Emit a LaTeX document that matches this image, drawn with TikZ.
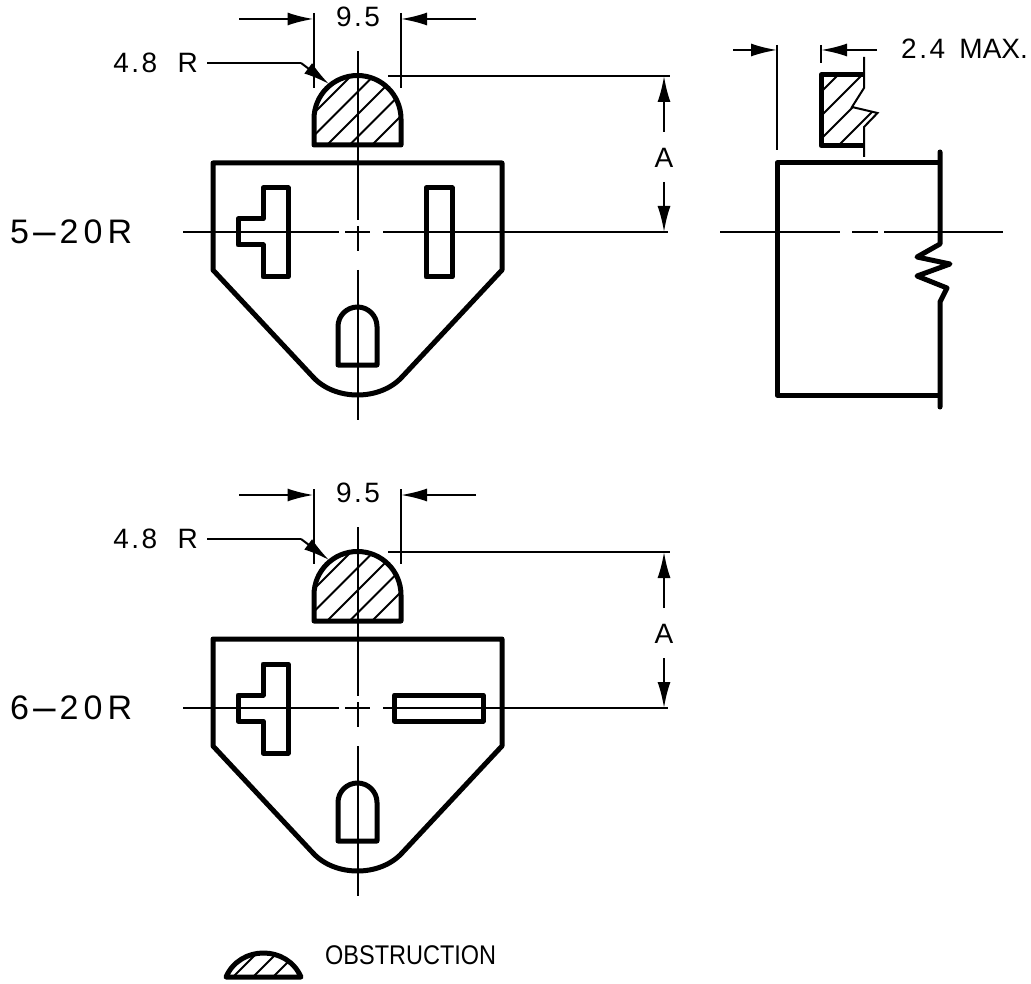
\documentclass[tikz,border=0pt]{standalone}
\usepackage{fontspec}
\usepackage{tikz}
\usetikzlibrary{arrows.meta}
\setmainfont{Liberation Sans}
\newfontfamily\dimfont[LetterSpace=9]{Liberation Sans}
\tikzset{
    outline/.style={black, line width=5pt, line join=round},
    slot/.style={black, line width=5pt, line join=round},
    thin line/.style={black, line width=2pt},
    hatch/.style={black, line width=1.8pt},
    dimarrow/.style={black, line width=2pt, -{Latex[length=26pt,width=13pt]}},
    dimtext/.style={font=\dimfont\fontsize{28}{28}\selectfont, inner sep=0pt},
    plugtext/.style={font=\dimfont\fontsize{34}{34}\selectfont\addfontfeature{LetterSpace=15}, inner sep=0pt},
}
\begin{document}
\begin{tikzpicture}[x=1pt,y=-1pt]
    \useasboundingbox (0,0) rectangle (1031,984);
    \foreach \dy/\plug in {0/5,476/6}{
        \begin{scope}[shift={(0,\dy)}]
            \begin{scope}
                \clip (314,145) -- (314,119) arc [start angle=180, end angle=360, radius=43.5] -- (401,145) -- cycle;
                \foreach \s in {427,449.5,472,494.5,517}
                    \draw[hatch] (\s-170,170) -- (\s-70,70);
            \end{scope}
            \draw[outline] (314,145) -- (314,119) arc [start angle=180, end angle=360, radius=43.5] -- (401,145) -- cycle;
            \draw[outline] (213,163) -- (502,163) -- (502,270) -- (402,377) .. controls (380,401) and (335,401) .. (313,377) -- (213,270) -- cycle;
            \draw[slot] (263,188) -- (288,188) -- (288,277) -- (263,277) -- (263,245) -- (238,245) -- (238,219) -- (263,219) -- cycle;
            \draw[slot] (338,365) -- (338,326.5) arc [start angle=180, end angle=360, radius=19.5] -- (377,365) -- cycle;
            \draw[thin line] (357.5,51) -- (357.5,220);
            \draw[thin line] (357.5,226) -- (357.5,251);
            \draw[thin line] (357.5,270) -- (357.5,420);
            \draw[thin line] (183,232) -- (339,232);
            \draw[thin line] (345,232) -- (370,232);
            \draw[thin line] (383,232) -- (668,232);
            \draw[thin line] (313.5,13) -- (313.5,88);
            \draw[thin line] (401,13) -- (401,88);
            \draw[dimarrow] (239,19) -- (313.5,19);
            \draw[dimarrow] (476,19) -- (401,19);
            \draw[thin line] (388,76) -- (670,76);
            \draw[dimarrow] (664,132) -- (664,76);
            \draw[dimarrow] (664,182) -- (664,232);
            \draw[thin line] (207,63) -- (301,63);
            \draw[dimarrow] (301,63) -- (329,84);
            \node[dimtext] (dim95\dy) at (358,17) {9.5};
            \node[dimtext, anchor=east] (rad\dy) at (198,63) {4.8\hspace{10pt} R};
            \node[dimtext] (dima\dy) at (664,158) {A};
            \node[plugtext, anchor=west] (plug\dy) at (10,232) {\plug\scalebox{2.7}[1]{-}20R};
        \end{scope}
    }
    \draw[slot] (426,188) rectangle (452,277);
    \draw[outline] (394.5,695) rectangle (483,721);
    \begin{scope}
        \clip (821,75) -- (864,75) -- (864,88) -- (852,107) -- (877.5,113) -- (864,127) -- (864,145.5) -- (821,145.5) -- cycle;
        \foreach \s in {913,937,960,984}
            \draw[hatch] (\s-150,150) -- (\s-70,70);
    \end{scope}
    \draw[thin line] (864,57) -- (864,88) -- (852,107) -- (877.5,113) -- (864,127) -- (864,157);
    \draw[outline] (864,75) -- (821,75) -- (821,145.5) -- (864,145.5);
    \draw[outline] (940,163) -- (777,163) -- (777,395) -- (940,395);
    \draw[outline, line cap=round] (940,152) -- (940,244) -- (917,257) -- (950,264) -- (917,276) -- (947,288) -- (940,302) -- (940,407);
    \draw[thin line] (720,232) -- (840,232);
    \draw[thin line] (852,232) -- (878,232);
    \draw[thin line] (884,232) -- (1003,232);
    \draw[thin line] (777,45) -- (777,150);
    \draw[thin line] (821,45) -- (821,63);
    \draw[dimarrow] (733,50) -- (777,50);
    \draw[dimarrow] (877,50) -- (821,50);
    \node[dimtext, anchor=west] (maxdim) at (901,49) {2.4\hspace{4pt} {\addfontfeature{LetterSpace=0}MAX.}};
    \begin{scope}
        \clip (226,977) .. controls (240,945) and (287,945) .. (301,977) -- cycle;
        \foreach \s in {1210,1230,1250}
            \draw[hatch] (\s-980,980) -- (\s-950,950);
    \end{scope}
    \draw[outline] (226,977) .. controls (240,945) and (287,945) .. (301,977) -- cycle;
    \node[font=\fontsize{27}{27}\selectfont, inner sep=0pt, anchor=west, xscale=0.87] (obstruction) at (325,955) {OBSTRUCTION};
\end{tikzpicture}
\end{document}
